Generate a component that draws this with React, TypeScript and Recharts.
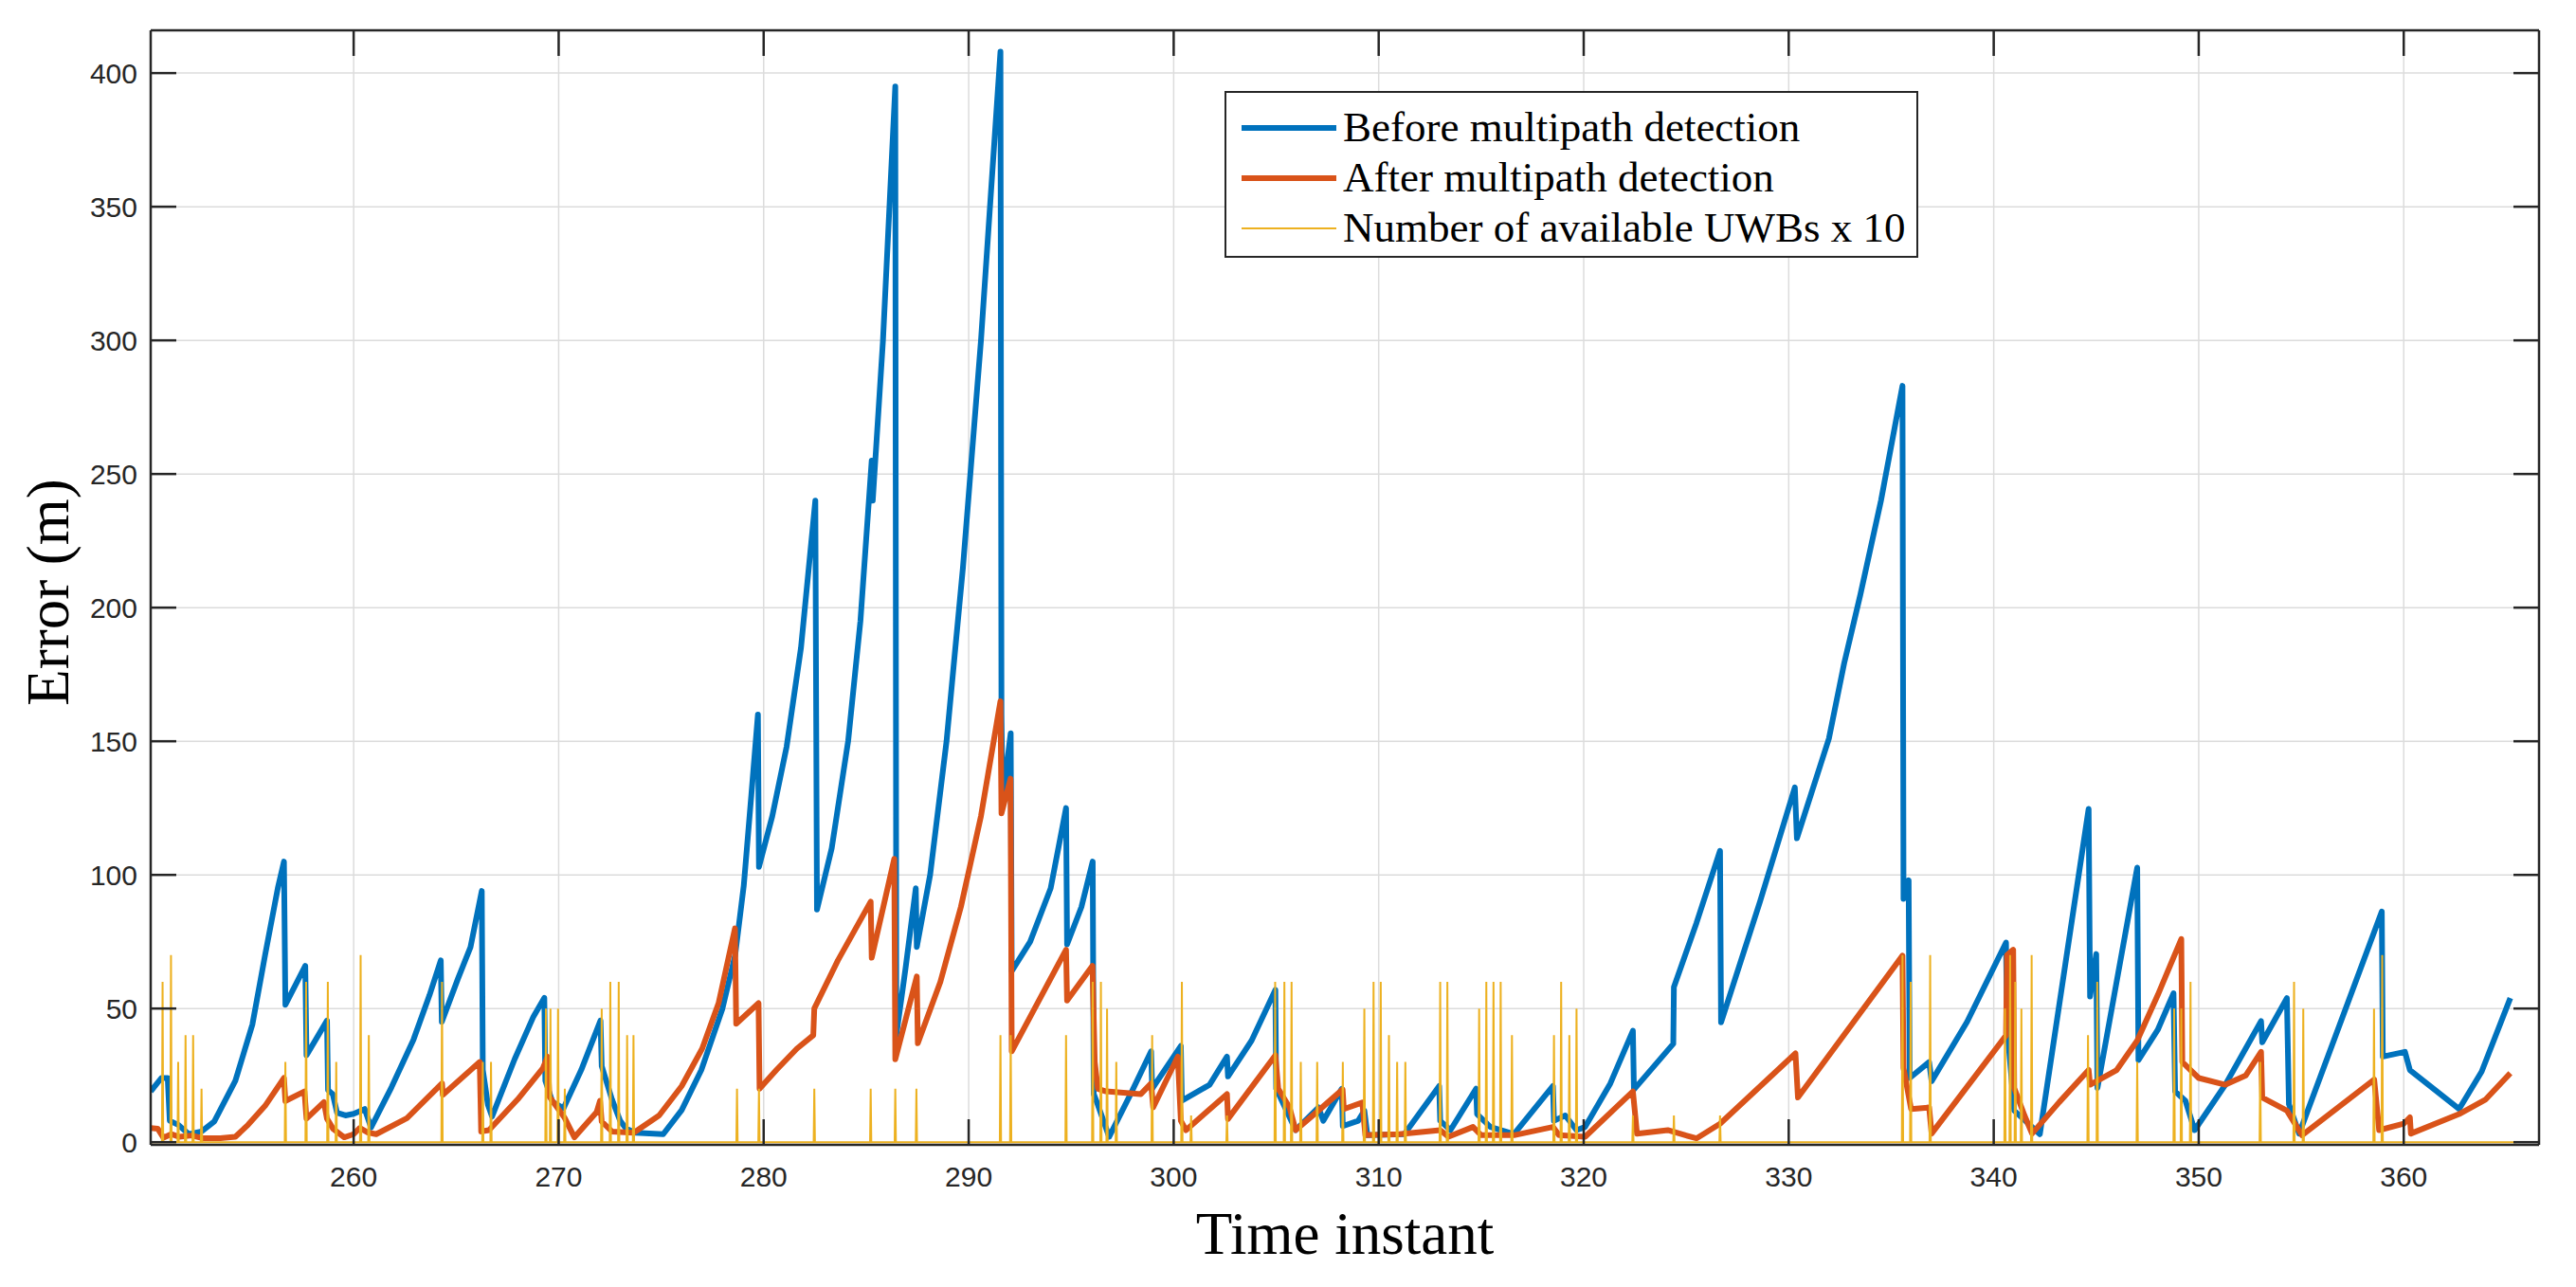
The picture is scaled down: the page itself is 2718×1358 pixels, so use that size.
import React from "react"
import { LineChart, Line, XAxis, YAxis, CartesianGrid, Legend } from "recharts"

const xTicks = [260, 270, 280, 290, 300, 310, 320, 330, 340, 350, 360]
const yTicks = [0, 50, 100, 150, 200, 250, 300, 350, 400]

// [time instant, error (m)]
const beforeDetection: [number, number][] = [
  [250.1, 19], [250.62, 24], [250.93, 24], [251.03, 8], [251.44, 6.5], [251.96, 3], [252.58, 4],
  [253.2, 7.7], [254.23, 23], [255.06, 44], [255.68, 70], [256.3, 95], [256.6, 105],
  [256.67, 51.4], [257.64, 66], [257.7, 32.5], [258.7, 45.5], [258.75, 19.5], [258.98, 18], [259.19, 11],
  [259.6, 10], [260.0, 10.6], [260.54, 12.4], [260.85, 5.5],
  [261.85, 20.6], [262.92, 38.4], [263.7, 55], [264.25, 68], [264.3, 45], [265.08, 61], [265.7, 73],
  [266.25, 94], [266.3, 27], [266.55, 14], [266.75, 9.6],
  [267.85, 31], [268.77, 47], [269.3, 54], [269.35, 23], [269.7, 15], [270.24, 12.7],
  [271.1, 27], [272.04, 45.5], [272.1, 28.5], [272.6, 16], [273.0, 8], [273.3, 5], [273.76, 3.5], [275.1, 3],
  [276.0, 12], [276.96, 27], [277.99, 50], [278.61, 70], [279.03, 96], [279.4, 130], [279.72, 160],
  [279.77, 103], [280.42, 122], [281.12, 148], [281.82, 185], [282.52, 240], [282.6, 87],
  [283.32, 110], [284.12, 150], [284.72, 195], [285.27, 255], [285.32, 240], [285.82, 300], [286.42, 395],
  [286.47, 40], [286.92, 65], [287.42, 95], [287.47, 73],
  [288.12, 100], [288.92, 150], [289.72, 215], [290.6, 300], [291.55, 408], [291.6, 160], [291.65, 128],
  [292.05, 153], [292.1, 64],
  [293.0, 75], [294.0, 95], [294.75, 125], [294.8, 74], [295.5, 88], [296.05, 105], [296.1, 18], [296.3, 14],
  [296.85, 2], [297.9, 18], [298.9, 34], [298.95, 20], [300.35, 36], [300.4, 15.5], [301.75, 21.5],
  [302.6, 32], [302.65, 24.6], [303.8, 38], [304.96, 57], [305.0, 20], [305.95, 4.5],
  [307.06, 13], [307.3, 8], [308.2, 20], [308.25, 6], [309.0, 8], [309.3, 11.8], [309.45, 2.6], [311.25, 3],
  [312.95, 21], [313.0, 8], [313.5, 4.5], [314.75, 20], [314.8, 10.5], [315.45, 5.7], [316.6, 3],
  [318.5, 21], [318.55, 8], [319.1, 10], [319.65, 4.5], [320.07, 5.7],
  [321.3, 22], [322.4, 41.7], [322.45, 19.7], [324.37, 36.8], [324.4, 58], [325.5, 82], [326.65, 109],
  [326.7, 44.8], [328.6, 90], [330.3, 132.7], [330.4, 113.7], [331.96, 151], [332.7, 179], [333.5, 205],
  [334.5, 240], [335.55, 283],
  [335.6, 91], [335.85, 98], [335.9, 24], [336.85, 30], [336.97, 22.8],
  [338.7, 45], [340.6, 74.7], [340.65, 43.5], [341.0, 11.8], [342.25, 3],
  [344.63, 124.7], [344.7, 54.5], [345.0, 70.4], [345.06, 20.3], [347.0, 102.7], [347.06, 30.7],
  [348.0, 42], [348.77, 55.7], [348.85, 19], [349.35, 15.5], [349.8, 4.5],
  [351.3, 21.5], [353.04, 45.3], [353.1, 37.4], [354.3, 53.9], [354.4, 14.2], [354.9, 3.2],
  [358.93, 86.3], [358.98, 32], [360.06, 33.8], [360.3, 27], [362.7, 12.4], [363.8, 26.4], [365.2, 53.9],
]

const afterDetection: [number, number][] = [
  [250.1, 5.3], [250.45, 5], [250.72, 1.7], [251.1, 3], [251.5, 2], [252.1, 2.5], [252.6, 1.5],
  [253.5, 1.5], [254.23, 2], [254.85, 6.5], [255.68, 13.6], [256.6, 24], [256.67, 15.4], [257.6, 19],
  [257.7, 8.8], [258.55, 15], [258.7, 8.8], [259.0, 5], [259.54, 1.8], [260.0, 3], [260.3, 5.3],
  [260.7, 3.6], [261.1, 3],
  [262.6, 9], [264.31, 22], [264.35, 17.7], [266.15, 30], [266.22, 4], [266.6, 4.5], [268.0, 16],
  [269.23, 27.7], [269.46, 32], [269.55, 17], [270.3, 9], [270.77, 1.8], [271.85, 11.2], [272.02, 15.5],
  [272.1, 7.7], [272.6, 4], [273.66, 3.5],
  [274.9, 10], [276.0, 21], [277.0, 35], [277.8, 52], [278.6, 80], [278.66, 44.3], [279.75, 52], [279.8, 20],
  [280.62, 27], [281.62, 35], [282.42, 40], [282.47, 50], [283.62, 68], [285.22, 90], [285.27, 69],
  [286.37, 106], [286.42, 31], [287.47, 62], [287.52, 37],
  [288.62, 60], [289.62, 88], [290.6, 122], [291.55, 165], [291.6, 123], [292.04, 136], [292.1, 34],
  [294.75, 72], [294.8, 53], [296.04, 66], [296.15, 30], [296.3, 20], [296.7, 19], [298.4, 18],
  [298.9, 22], [299.0, 13], [300.2, 32], [300.35, 8], [300.6, 4.5], [302.6, 18], [302.65, 8.7],
  [304.96, 32.5], [305.1, 20], [305.65, 13], [305.95, 4.5], [307.06, 11.8], [308.24, 19.7], [308.3, 12.4],
  [309.2, 14.8], [309.35, 2.6], [311.0, 3], [313.0, 4.5], [313.4, 2], [314.6, 5.7], [315.0, 2.6],
  [316.6, 2.6], [318.5, 5.7], [318.8, 2.6], [320.07, 2], [322.4, 19], [322.6, 3.2], [324.1, 4.5],
  [325.5, 1.4], [326.65, 6.9], [330.33, 33.2], [330.45, 16.7], [335.55, 69.8], [335.6, 27.7],
  [335.97, 12.4], [336.85, 13], [336.97, 3.2], [340.6, 39.9], [340.65, 70], [340.95, 72], [341.0, 20.3],
  [341.5, 10], [341.87, 3.2], [343.2, 15], [344.63, 27], [344.7, 21.5], [346.0, 27], [347.0, 38],
  [348.0, 55], [349.15, 76], [349.2, 30], [350.0, 24], [351.3, 21.5], [352.3, 25], [353.04, 33.8],
  [353.1, 16.7], [354.3, 11.8], [355.04, 2.6], [358.56, 23.4], [358.8, 4.5], [360.0, 6.9], [360.3, 9.3],
  [360.35, 3.2], [362.7, 10.5], [364.0, 16], [365.2, 25.8],
]

// [time instant, number of available UWBs x 10] -- zero between these samples
const uwbSpikes: [number, number][] = [
  [250.68, 60], [251.09, 70], [251.44, 30], [251.8, 40], [252.17, 40], [252.58, 20],
  [256.67, 30], [257.68, 60], [258.74, 60], [259.15, 30], [260.34, 70], [260.74, 40],
  [264.31, 60], [266.3, 30], [266.7, 30],
  [269.38, 50], [269.6, 50], [269.97, 50], [270.3, 20],
  [272.1, 50], [272.52, 60], [272.93, 60], [273.34, 40], [273.65, 40],
  [278.7, 20], [279.77, 20], [282.47, 20], [285.22, 20], [286.42, 20], [287.45, 20],
  [291.55, 40], [292.05, 40], [294.75, 40], [296.05, 60], [296.45, 60], [296.75, 50], [297.2, 30],
  [298.95, 40], [300.4, 60], [300.85, 10],
  [302.6, 10], [304.95, 60], [305.4, 60], [305.75, 60], [306.2, 30], [307.0, 30], [308.25, 30],
  [309.3, 50], [309.75, 60], [310.1, 60], [310.5, 40], [310.9, 30], [311.3, 30],
  [313.0, 60], [313.35, 60], [314.9, 50], [315.25, 60], [315.6, 60], [315.95, 60], [316.5, 40],
  [318.55, 40], [318.9, 60], [319.3, 40], [319.65, 50],
  [322.4, 10], [324.4, 10], [326.65, 10],
  [335.55, 70], [335.95, 60], [336.9, 70],
  [340.55, 50], [340.8, 70], [341.05, 60], [341.35, 50], [341.85, 70],
  [344.6, 40], [345.05, 60], [347.0, 30], [348.8, 50], [349.15, 50], [349.6, 60],
  [353.0, 30], [354.65, 60], [355.1, 50], [358.55, 50], [358.95, 70],
]

const uwbStart = 250.1
const uwbEnd = 365.5

const seriesOrder = [
  "Before multipath detection",
  "After multipath detection",
  "Number of available UWBs x 10",
]

const toRows = (pts: [number, number][]) => pts.map(([t, v]) => ({ t, v }))

const uwbRows = [
  { t: uwbStart, v: 0 },
  ...uwbSpikes.flatMap(([t, h]) => [
    { t: t - 0.03, v: 0 },
    { t, v: h },
    { t: t + 0.03, v: 0 },
  ]),
  { t: uwbEnd, v: 0 },
]

const BLUE = "#0072BD"
const ORANGE = "#D95319"
const YELLOW = "#EDB120"
const AXIS = "#262626"
const TICK_LEN = 27
const SANS = "'Liberation Sans', Arial, sans-serif"
const SERIF = "'Liberation Serif', 'Times New Roman', serif"

const BottomTick = (props: any) => {
  const { x, y, payload } = props
  const base = y - 44
  return (
    <g>
      <line x1={x} x2={x} y1={base} y2={base - TICK_LEN} stroke={AXIS} strokeWidth={2.5} />
      <text x={x} y={y} textAnchor="middle" fontFamily={SANS} fontSize={30} fill={AXIS}>
        {payload.value}
      </text>
    </g>
  )
}

const LeftTick = (props: any) => {
  const { x, y, payload } = props
  const base = x + 14
  return (
    <g>
      <line x1={base} x2={base + TICK_LEN} y1={y} y2={y} stroke={AXIS} strokeWidth={2.5} />
      <text x={x} y={y + 11} textAnchor="end" fontFamily={SANS} fontSize={30} fill={AXIS}>
        {payload.value}
      </text>
    </g>
  )
}

const TopTick = (props: any) => (
  <line x1={props.x} x2={props.x} y1={props.y} y2={props.y + TICK_LEN} stroke={AXIS} strokeWidth={2.5} />
)

const RightTick = (props: any) => (
  <line x1={props.x} x2={props.x - TICK_LEN} y1={props.y} y2={props.y} stroke={AXIS} strokeWidth={2.5} />
)

const XTitle = (props: any) => {
  const vb = props.viewBox
  return (
    <text x={vb.x + vb.width / 2} y={vb.y + 115} textAnchor="middle" fontFamily={SERIF} fontSize={63} fill="#000">
      Time instant
    </text>
  )
}

const YTitle = (props: any) => {
  const vb = props.viewBox
  const cx = 72
  const cy = vb.y + vb.height / 2 + 5
  return (
    <text
      x={cx}
      y={cy}
      transform={`rotate(-90 ${cx} ${cy})`}
      textAnchor="middle"
      fontFamily={SERIF}
      fontSize={63}
      fill="#000"
    >
      Error (m)
    </text>
  )
}

const legendWidths: Record<string, number> = {
  "Before multipath detection": 6,
  "After multipath detection": 6,
  "Number of available UWBs x 10": 2,
}

const LegendBox = (props: any) => {
  const items = [...(props.payload || [])].sort(
    (a: any, b: any) => seriesOrder.indexOf(a.value) - seriesOrder.indexOf(b.value)
  )
  return (
    <div
      style={{
        width: 732,
        height: 176,
        boxSizing: "border-box",
        border: `2px solid ${AXIS}`,
        background: "#fff",
        padding: "10px 0 0 16px",
      }}
    >
      {items.map((item: any) => (
        <div key={item.value} style={{ display: "flex", alignItems: "center", height: 53 }}>
          <svg width={100} height={10} style={{ flex: "none" }}>
            <line x1={0} x2={100} y1={5} y2={5} stroke={item.color} strokeWidth={legendWidths[item.value] || 3} />
          </svg>
          <span
            style={{
              marginLeft: 7,
              fontFamily: SERIF,
              fontSize: 45,
              lineHeight: "53px",
              color: "#000",
              whiteSpace: "nowrap",
            }}
          >
            {item.value}
          </span>
        </div>
      ))}
    </div>
  )
}

const xDomain = [250.1, 366.6]
const yDomain = [-1, 416]

export default function App() {
  return (
    <div style={{ position: "absolute", left: 0, top: 0, width: 2718, height: 1358, background: "#fff" }}>
      <LineChart width={2718} height={1358} margin={{ top: 31, right: 38, left: 0, bottom: 0 }}>
        <CartesianGrid stroke="#DCDCDC" strokeWidth={1.5} />
        <XAxis
          dataKey="t"
          type="number"
          domain={xDomain}
          allowDataOverflow
          ticks={xTicks}
          interval={0}
          height={150}
          tickSize={0}
          tickMargin={44}
          tickLine={false}
          tick={(p: any) => <BottomTick {...p} />}
          axisLine={{ stroke: AXIS, strokeWidth: 2.5 }}
          label={{ content: XTitle }}
        />
        <XAxis
          xAxisId="top"
          orientation="top"
          dataKey="t"
          type="number"
          domain={xDomain}
          allowDataOverflow
          ticks={xTicks}
          interval={0}
          height={1}
          tickSize={0}
          tickMargin={0}
          tickLine={false}
          tick={(p: any) => <TopTick {...p} />}
          axisLine={{ stroke: AXIS, strokeWidth: 2.5 }}
        />
        <YAxis
          type="number"
          domain={yDomain}
          allowDataOverflow
          ticks={yTicks}
          interval={0}
          width={159}
          tickSize={0}
          tickMargin={14}
          tickLine={false}
          tick={(p: any) => <LeftTick {...p} />}
          axisLine={{ stroke: AXIS, strokeWidth: 2.5 }}
          label={{ content: YTitle }}
        />
        <YAxis
          yAxisId="right"
          orientation="right"
          type="number"
          domain={yDomain}
          allowDataOverflow
          ticks={yTicks}
          interval={0}
          width={1}
          tickSize={0}
          tickMargin={0}
          tickLine={false}
          tick={(p: any) => <RightTick {...p} />}
          axisLine={{ stroke: AXIS, strokeWidth: 2.5 }}
        />
        <Legend
          layout="vertical"
          verticalAlign="middle"
          align="center"
          wrapperStyle={{ left: 1292, top: 96, width: 732, height: 176 }}
          content={(p: any) => <LegendBox {...p} />}
        />
        <Line
          data={toRows(beforeDetection)}
          dataKey="v"
          name="Before multipath detection"
          type="linear"
          stroke={BLUE}
          strokeWidth={6}
          strokeLinejoin="round"
          dot={false}
          activeDot={false}
          isAnimationActive={false}
        />
        <Line
          data={toRows(afterDetection)}
          dataKey="v"
          name="After multipath detection"
          type="linear"
          stroke={ORANGE}
          strokeWidth={6}
          strokeLinejoin="round"
          dot={false}
          activeDot={false}
          isAnimationActive={false}
        />
        <Line
          data={uwbRows}
          dataKey="v"
          name="Number of available UWBs x 10"
          type="linear"
          stroke={YELLOW}
          strokeWidth={2}
          dot={false}
          activeDot={false}
          isAnimationActive={false}
        />
      </LineChart>
    </div>
  )
}
